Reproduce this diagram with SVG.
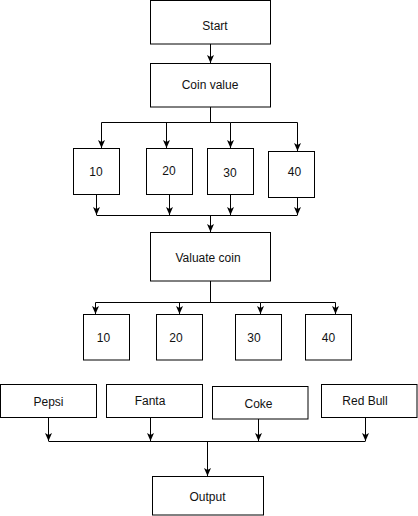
<svg xmlns="http://www.w3.org/2000/svg" width="418" height="516" viewBox="0 0 418 516">
<style>
.box{fill:#fff;stroke:#000;stroke-width:1}
.t{font-family:"Liberation Sans",Arial,sans-serif;font-size:12px;fill:#111;text-anchor:middle;dominant-baseline:central}
.c{fill:none;stroke:#000;stroke-width:1}
</style>
<defs>
<marker id="ah" markerUnits="userSpaceOnUse" markerWidth="10" markerHeight="10" viewBox="0 0 10 10" refX="9" refY="5" orient="auto">
<path d="M1,1.5 L9,5 L1,8.5 L3,5 z" fill="#000"/>
</marker>
</defs>
<rect width="418" height="516" fill="#fff"/>
<g id="connectors">
<path class="c" d="M210.5,44 V63" marker-end="url(#ah)"/>
<path class="c" d="M210.5,107 V122.5 H101.5 V148" marker-end="url(#ah)"/>
<path class="c" d="M210.5,122.5 H166.5 V148" marker-end="url(#ah)"/>
<path class="c" d="M210.5,122.5 H230.5 V148" marker-end="url(#ah)"/>
<path class="c" d="M230.5,122.5 H297.5 V151" marker-end="url(#ah)"/>
<path class="c" d="M96.5,194 V215" marker-end="url(#ah)"/>
<path class="c" d="M169.5,194 V215" marker-end="url(#ah)"/>
<path class="c" d="M230.5,194 V215" marker-end="url(#ah)"/>
<path class="c" d="M297.5,197 V215" marker-end="url(#ah)"/>
<path class="c" d="M96.5,215.5 H297.5"/>
<path class="c" d="M210.5,215.5 V232" marker-end="url(#ah)"/>
<path class="c" d="M210.5,281 V302.5 H95.5 V314" marker-end="url(#ah)"/>
<path class="c" d="M210.5,302.5 H179.5 V314" marker-end="url(#ah)"/>
<path class="c" d="M210.5,302.5 H260.5 V314" marker-end="url(#ah)"/>
<path class="c" d="M260.5,302.5 H335.5 V314" marker-end="url(#ah)"/>
<path class="c" d="M48.5,418 V441" marker-end="url(#ah)"/>
<path class="c" d="M150.5,418 V441" marker-end="url(#ah)"/>
<path class="c" d="M258.5,419 V441" marker-end="url(#ah)"/>
<path class="c" d="M365.5,418 V441" marker-end="url(#ah)"/>
<path class="c" d="M48.5,441.5 H365.5"/>
<path class="c" d="M207.5,441.5 V476" marker-end="url(#ah)"/>
</g>
<g id="start"><rect class="box" x="150.5" y="0.5" width="120" height="43.5"/><text class="t" x="215" y="25.5">Start</text></g>
<g id="coin-value"><rect class="box" x="150.5" y="63.5" width="120" height="43.5"/><text class="t" x="210" y="85">Coin value</text></g>
<g id="c10"><rect class="box" x="73.5" y="148.5" width="46" height="46"/><text class="t" x="96" y="172">10</text></g>
<g id="c20"><rect class="box" x="146.5" y="148.5" width="46" height="46"/><text class="t" x="169" y="171">20</text></g>
<g id="c30"><rect class="box" x="207.5" y="148.5" width="46" height="46"/><text class="t" x="230" y="172.5">30</text></g>
<g id="c40"><rect class="box" x="268.5" y="151.5" width="46" height="46"/><text class="t" x="294.5" y="171.5">40</text></g>
<g id="valuate"><rect class="box" x="150.5" y="232.5" width="120" height="48.5"/><text class="t" x="208" y="257.5">Valuate coin</text></g>
<g id="v10"><rect class="box" x="83.5" y="314.5" width="46" height="45.5"/><text class="t" x="103.5" y="337.5">10</text></g>
<g id="v20"><rect class="box" x="156.5" y="314.5" width="46" height="45.5"/><text class="t" x="176" y="337.5">20</text></g>
<g id="v30"><rect class="box" x="235.5" y="314.5" width="46" height="45.5"/><text class="t" x="254" y="337.5">30</text></g>
<g id="v40"><rect class="box" x="305.5" y="314.5" width="46" height="45.5"/><text class="t" x="328.5" y="337.5">40</text></g>
<g id="pepsi"><rect class="box" x="0.5" y="384.5" width="96" height="33"/><text class="t" x="48.5" y="401.5">Pepsi</text></g>
<g id="fanta"><rect class="box" x="106.5" y="384.5" width="96" height="33"/><text class="t" x="150" y="400.5">Fanta</text></g>
<g id="coke"><rect class="box" x="212.5" y="386.5" width="95.5" height="32.5"/><text class="t" x="258.5" y="404">Coke</text></g>
<g id="redbull"><rect class="box" x="321.5" y="384.5" width="95.5" height="33"/><text class="t" x="365" y="400.5">Red Bull</text></g>
<g id="output"><rect class="box" x="152.5" y="476.5" width="111" height="38.5"/><text class="t" x="207.5" y="496.5">Output</text></g>
</svg>
